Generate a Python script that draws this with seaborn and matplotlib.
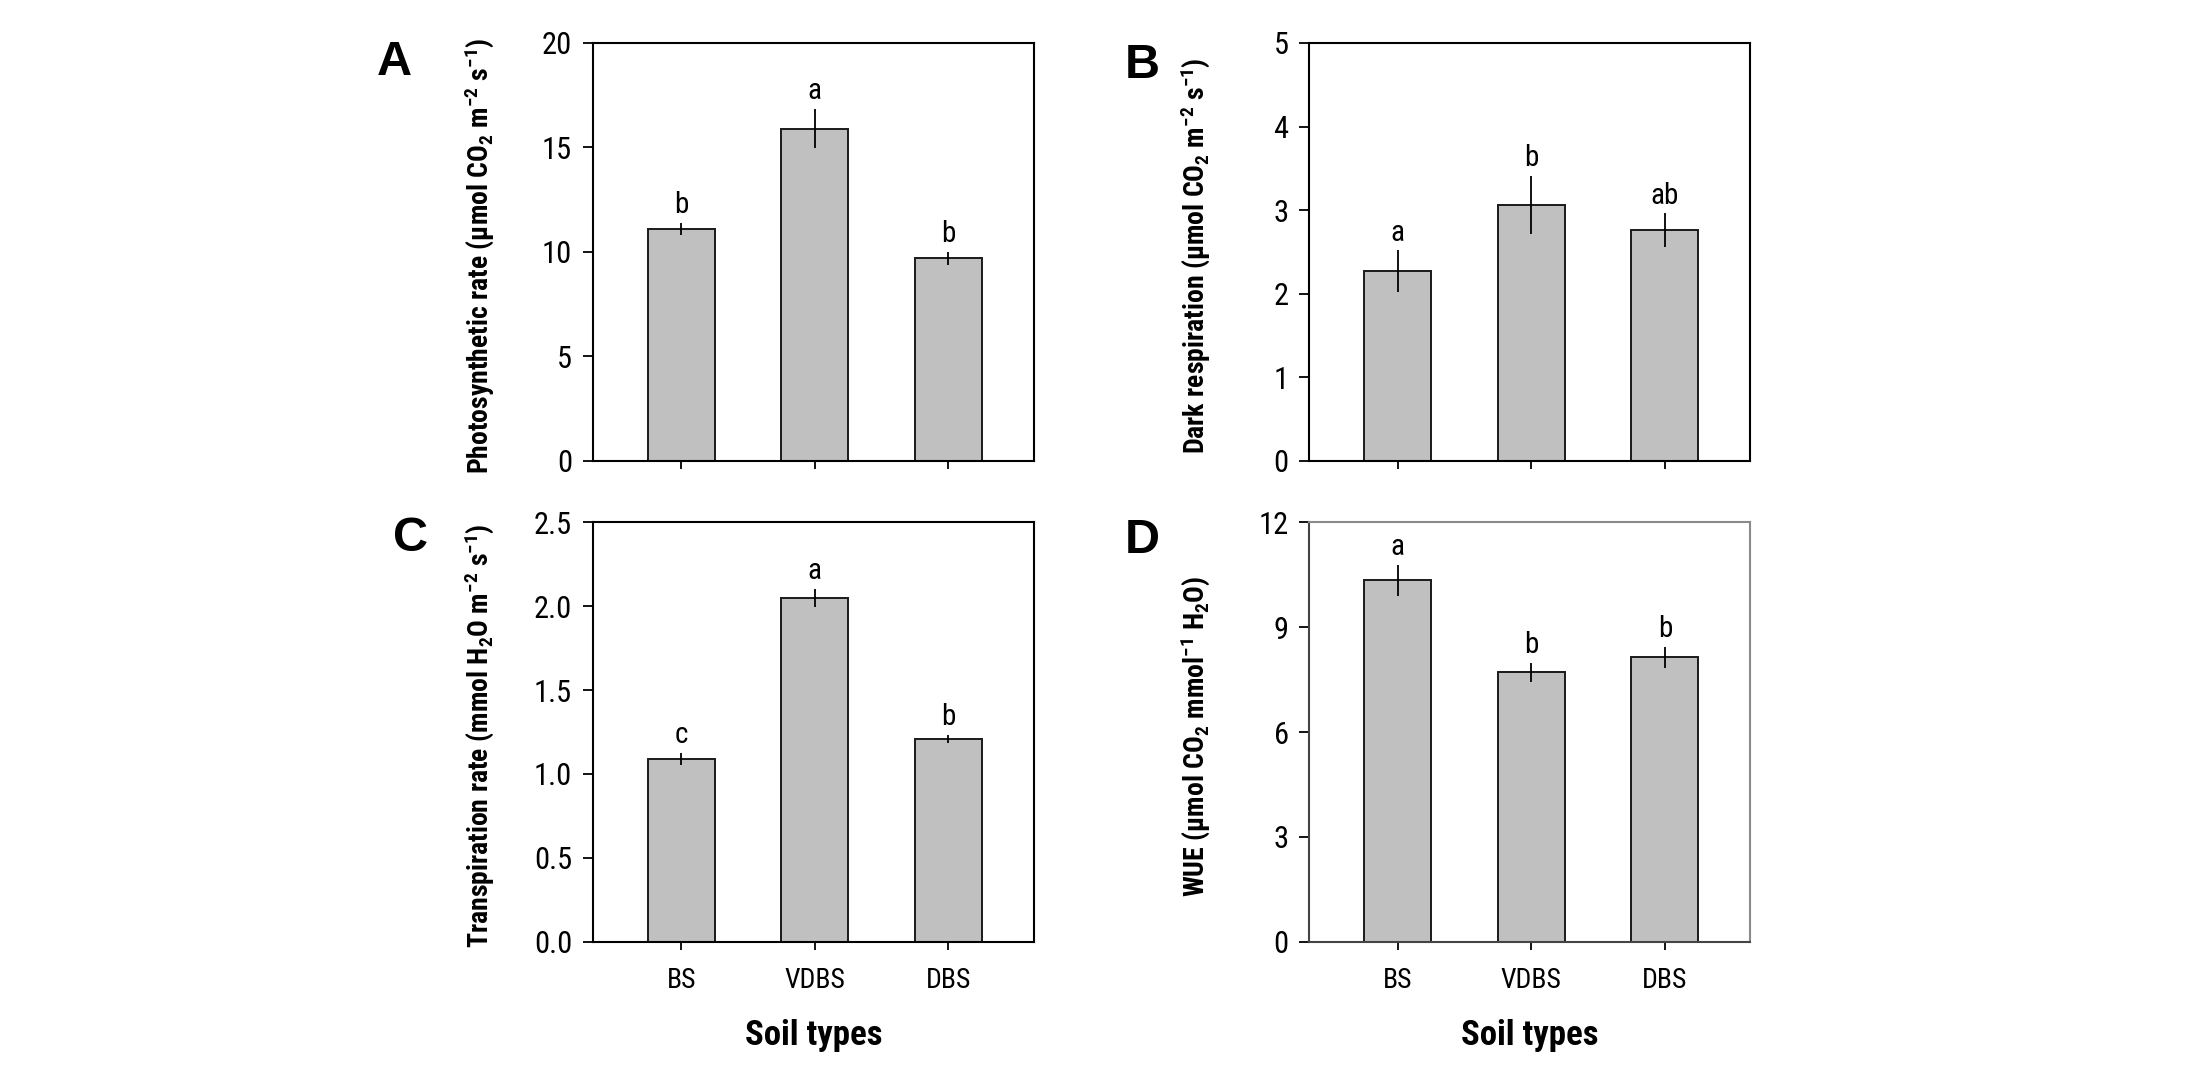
import matplotlib
matplotlib.use("Agg")
import matplotlib.pyplot as plt
import seaborn as sns
import numpy as np

# ---------------- data ----------------
categories = ["BS", "VDBS", "DBS"]

photo_mean = [11.1, 15.9, 9.7]
photo_se = [0.30, 0.95, 0.32]
photo_letters = ["b", "a", "b"]

dark_mean = [2.27, 3.06, 2.76]
dark_se = [0.25, 0.35, 0.20]
dark_letters = ["a", "b", "ab"]

trans_mean = [1.09, 2.05, 1.21]
trans_se = [0.036, 0.053, 0.025]
trans_letters = ["c", "a", "b"]

wue_mean = [10.33, 7.71, 8.13]
wue_se = [0.45, 0.27, 0.30]
wue_letters = ["a", "b", "b"]

photo_ticks = [0, 5, 10, 15, 20]
dark_ticks = [0, 1, 2, 3, 4, 5]
trans_ticks = [0.0, 0.5, 1.0, 1.5, 2.0, 2.5]
wue_ticks = [0, 3, 6, 9, 12]

photo_label = r"Photosynthetic rate (μmol CO$\mathregular{_2}$ m$\mathregular{^{-2}}$ s$\mathregular{^{-1}}$)"
dark_label = r"Dark respiration (μmol CO$\mathregular{_2}$ m$\mathregular{^{-2}}$ s$\mathregular{^{-1}}$)"
trans_label = r"Transpiration rate (mmol H$\mathregular{_2}$O m$\mathregular{^{-2}}$ s$\mathregular{^{-1}}$)"
wue_label = r"WUE (μmol CO$\mathregular{_2}$ mmol$\mathregular{^{-1}}$ H$\mathregular{_2}$O)"
x_title = "Soil types"
panel_letters = ["A", "B", "C", "D"]

# ---------------- style ----------------
sns.set_style("ticks")
plt.rcParams["font.family"] = ["Roboto Condensed", "Liberation Sans Narrow", "Liberation Sans", "DejaVu Sans"]
plt.rcParams["font.stretch"] = "condensed"
plt.rcParams["text.color"] = "black"
plt.rcParams["axes.labelcolor"] = "black"
plt.rcParams["xtick.color"] = "black"
plt.rcParams["ytick.color"] = "black"

fig = plt.figure(figsize=(21.85, 10.73), dpi=100)

W = 0.2018
left_cols = [0.2714, 0.5993]
rows = [(0.5704, 0.3896), (0.1221, 0.3914)]

panels = [
    (photo_mean, photo_se, photo_letters, photo_ticks, photo_label, "{:g}"),
    (dark_mean, dark_se, dark_letters, dark_ticks, dark_label, "{:g}"),
    (trans_mean, trans_se, trans_letters, trans_ticks, trans_label, "{:.1f}"),
    (wue_mean, wue_se, wue_letters, wue_ticks, wue_label, "{:g}"),
]

letter_pos = [(0.1803, 0.9422), (0.5227, 0.9394), (0.1881, 0.4977), (0.5227, 0.4967)]

for i, (means, ses, lets, ticks, ylab, fmt) in enumerate(panels):
    r, c = divmod(i, 2)
    bottom, height = rows[r]
    ax = fig.add_axes([left_cols[c], bottom, W, height])
    sns.barplot(x=categories, y=means, color="#C0C0C0", saturation=1,
                edgecolor="#1a1a1a", linewidth=1.4, width=0.5,
                errorbar=None, ax=ax)
    ax.errorbar(np.arange(len(categories)), means, yerr=ses, fmt="none",
                ecolor="black", elinewidth=1.3, capsize=0)
    for j, (m, s, t) in enumerate(zip(means, ses, lets)):
        ax.annotate(t, xy=(j, m + s), xytext=(0, 7), textcoords="offset points",
                    ha="center", va="baseline", fontsize=21)
    ax.set_xlim(-0.66, 2.64)
    ax.set_ylim(ticks[0], ticks[-1])
    ax.set_yticks(ticks)
    ax.set_yticklabels([fmt.format(t) for t in ticks])
    ax.tick_params(axis="y", direction="out", length=7, width=1.3,
                   labelsize=22, pad=8, left=True, right=False)
    ax.tick_params(axis="x", direction="out", length=6, width=1.3,
                   labelsize=20, pad=12, bottom=True, top=False)
    if r == 0:
        ax.set_xticklabels([])
        ax.set_xlabel("")
    else:
        ax.set_xlabel(x_title, fontsize=25, fontweight="bold", labelpad=18)
    ax.set_ylabel(ylab, fontsize=20, fontweight="bold")
    ax.yaxis.set_label_coords(-0.22, 0.49)
    for side in ["left", "right", "top", "bottom"]:
        ax.spines[side].set_visible(True)
        ax.spines[side].set_linewidth(1.5)
        ax.spines[side].set_color("black")
    if i == 3:
        ax.spines["top"].set_color("#8a8a8a")
        ax.spines["right"].set_color("#8a8a8a")
        ax.spines["left"].set_color("#444444")
        ax.spines["bottom"].set_color("#444444")
    fig.text(letter_pos[i][0], letter_pos[i][1], panel_letters[i],
             fontsize=35, fontweight="bold", ha="center", va="center",
             family=["Liberation Sans", "DejaVu Sans"], stretch="normal")

fig.savefig("out.png", dpi=100)
